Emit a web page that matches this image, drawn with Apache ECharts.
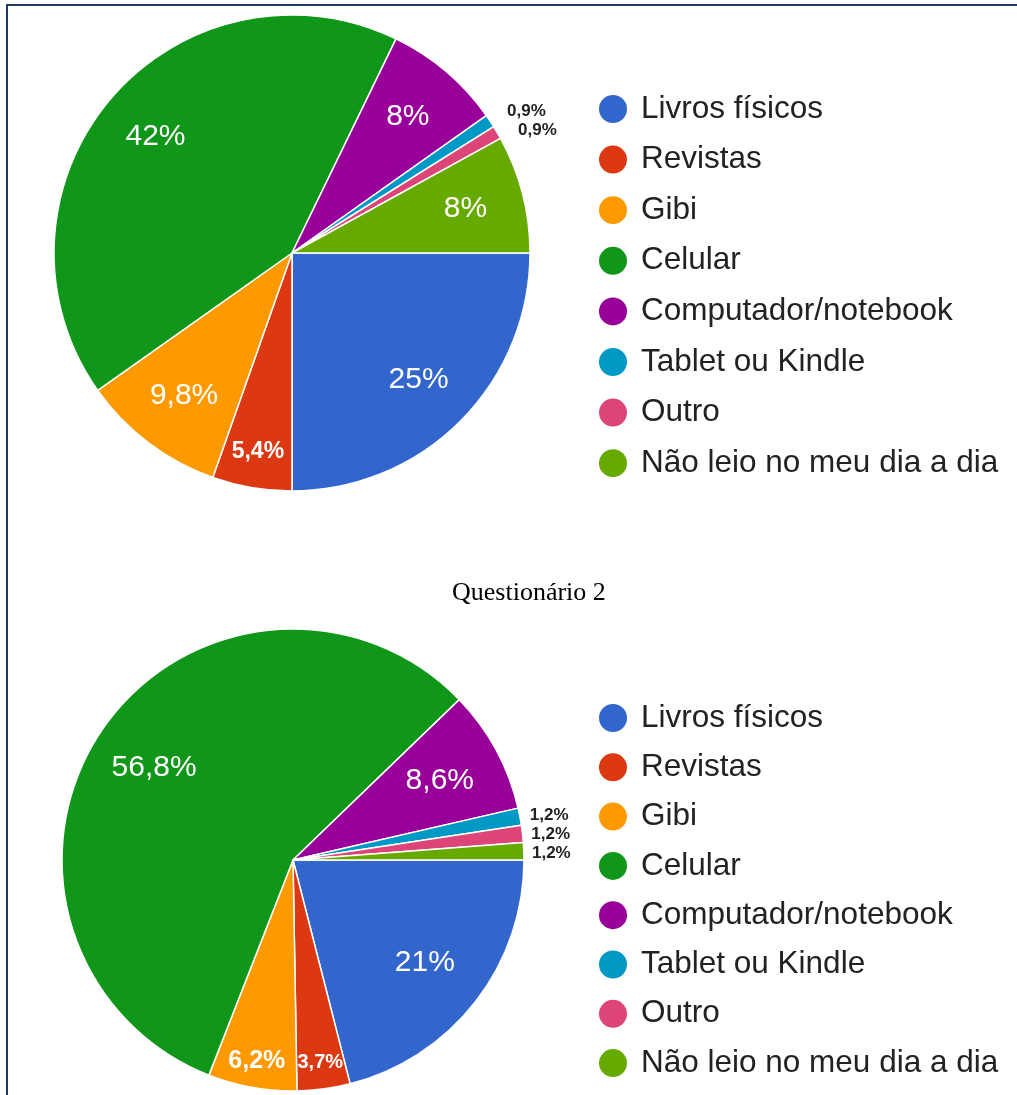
<!DOCTYPE html>
<html>
<head>
<meta charset="utf-8">
<script src="https://cdn.jsdelivr.net/npm/echarts@6/dist/echarts.min.js"></script>
<style>
  html, body { margin: 0; padding: 0; background: #fff; }
  #frame {
    position: absolute; left: 6px; top: 4px; width: 1011px; height: 1091px;
    border-top: 2px solid #203864; border-left: 2px solid #203864;
    box-sizing: border-box; pointer-events: none; z-index: 2;
  }
  #chart { position: absolute; left: 0; top: 0; width: 1017px; height: 1095px; }
</style>
</head>
<body>
<div id="chart"></div>
<div id="frame"></div>
<script>
// Reading devices, two survey rounds (percent of answers)
const categories = [
  'Livros físicos', 'Revistas', 'Gibi', 'Celular',
  'Computador/notebook', 'Tablet ou Kindle', 'Outro', 'Não leio no meu dia a dia'
];
const questionario1 = [25, 5.4, 9.8, 42, 8, 0.9, 0.9, 8];
const questionario2 = [21, 3.7, 6.2, 56.8, 8.6, 1.2, 1.2, 1.2];
const secondTitle = 'Questionário 2';

const palette = ['#3366cc', '#dc3912', '#ff9900', '#109618', '#990099', '#0099c6', '#dd4477', '#66aa00'];
const FONT = '"Liberation Sans", Arial, sans-serif';

const pct = v => String(v).replace('.', ',') + '%';

// Slice sizes decide how a label is drawn
const isTiny = v => v < 2;
const isNarrow = v => v >= 2 && v < 7;

function slices(values, leader) {
  return values.map((v, i) => ({
    name: categories[i],
    value: v,
    itemStyle: { color: palette[i] },
    label: isTiny(v)
      ? { show: true, position: 'outside', color: '#222', fontSize: 17, lineHeight: 17,
          fontWeight: 'bold', fontFamily: FONT, distanceToLabelLine: 2, formatter: p => pct(p.value) }
      : { show: false },
    labelLine: { show: false, length: leader, length2: 0 }
  }));
}

// Transparent ring that carries the inside labels at a chosen radius
function labelRing(values, center, inner, outer, pick, big) {
  return {
    type: 'pie', center: center, radius: [inner, outer], startAngle: 0, clockwise: true,
    silent: true, z: 3, avoidLabelOverlap: false,
    itemStyle: { color: 'rgba(0,0,0,0)', borderWidth: 0 },
    emphasis: { disabled: true },
    data: values.map((v, i) => ({
      name: categories[i], value: v,
      label: pick(v)
        ? (big
          ? { show: true, position: 'inside', color: '#fff', fontSize: 30, fontFamily: FONT }
          : { show: true, position: 'inside', color: '#fff', fontSize: Math.round(13 + 1.9 * v),
              fontWeight: 'bold', fontFamily: FONT })
        : { show: false }
    })),
    label: { formatter: p => pct(p.value) },
    labelLine: { show: false }
  };
}

function pie(values, center, r, leader) {
  return {
    type: 'pie', center: center, radius: r, startAngle: 0, clockwise: true,
    avoidLabelOverlap: true,
    itemStyle: { borderColor: '#fff', borderWidth: 1.5 },
    emphasis: { scale: false },
    data: slices(values, leader)
  };
}

function legend(top, gap) {
  return {
    orient: 'vertical', left: 597, top: top, itemGap: gap, padding: 0, height: 420,
    itemWidth: 30, itemHeight: 30, icon: 'circle', selectedMode: false,
    textStyle: { fontSize: 31.5, color: '#222', fontFamily: FONT, lineHeight: 30, padding: [0, 0, 0, 8] },
    data: categories.map((c, i) => ({ name: c, itemStyle: { color: palette[i] } }))
  };
}

const top1 = [292, 253], r1 = 238;
const top2 = [293, 860], r2 = 231;

const chart = echarts.init(document.getElementById('chart'), null, { renderer: 'canvas' });
chart.setOption({
  animation: false,
  backgroundColor: '#fff',
  title: {
    text: secondTitle, left: 447, top: 575,
    textStyle: { fontFamily: '"Liberation Serif", "Times New Roman", serif', fontSize: 26,
                 fontWeight: 'normal', color: '#000' }
  },
  legend: [legend(93, 18.6), legend(702, 17.3)],
  series: [
    pie(questionario1, top1, r1, 18),
    pie(questionario2, top2, r2, 8),
    labelRing(questionario1, top1, 114, r1, v => v >= 7, true),
    labelRing(questionario1, top1, 160, r1, isNarrow, false),
    labelRing(questionario2, top2, 97, r2, v => v >= 7, true),
    labelRing(questionario2, top2, 172, r2, isNarrow, false)
  ]
});
</script>
</body>
</html>
